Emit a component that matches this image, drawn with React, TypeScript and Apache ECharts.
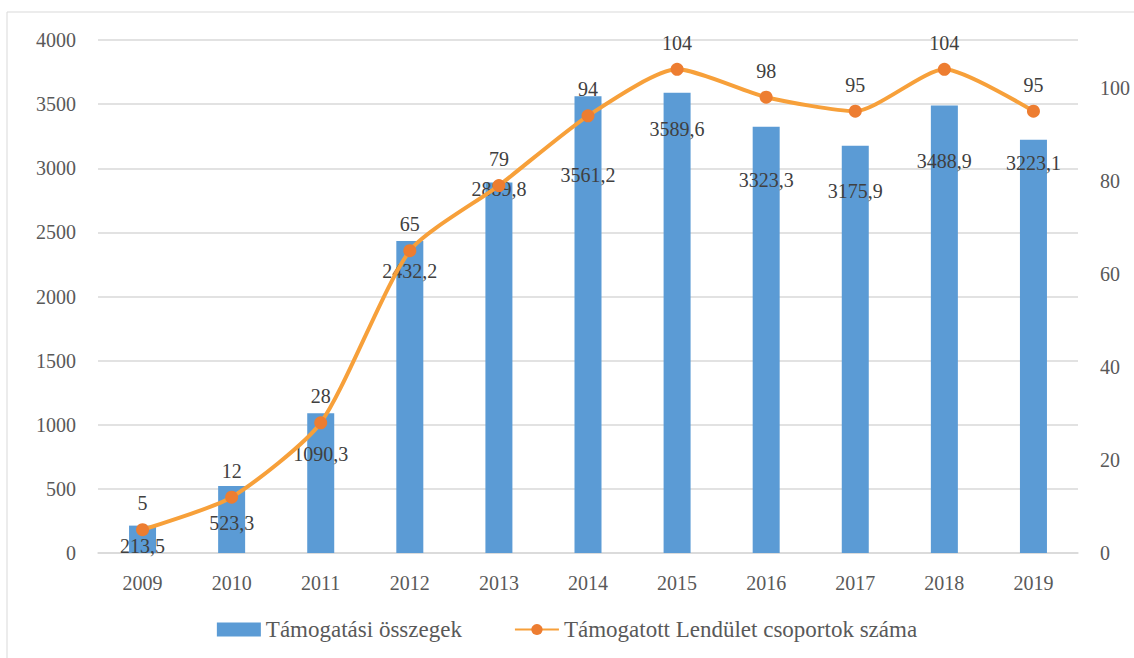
import React, { useEffect, useRef } from "react";
import * as echarts from "echarts";

const years = ["2009", "2010", "2011", "2012", "2013", "2014", "2015", "2016", "2017", "2018", "2019"];
const supportAmounts = [213.5, 523.3, 1090.3, 2432.2, 2889.8, 3561.2, 3589.6, 3323.3, 3175.9, 3488.9, 3223.1];
const groupCounts = [5, 12, 28, 65, 79, 94, 104, 98, 95, 104, 95];
const barName = "Támogatási összegek";
const lineName = "Támogatott Lendület csoportok száma";

// label vertical offsets (px below bar top) — styling only
const barLabelDy = [20, 37, 41, 30, 7, 79, 36, 53, 45, 55, 23];

const FONT = "'Liberation Serif', 'Times New Roman', 'DejaVu Serif', serif";
const TEXT = "#595959";
const LABEL = "#404040";

export default function App() {
  const ref = useRef<HTMLDivElement>(null);
  useEffect(() => {
    document.body.style.margin = "0";
    const chart = echarts.init(ref.current!, null, { renderer: "svg" });
    chart.setOption({
      animation: false,
      backgroundColor: "#ffffff",
      textStyle: { fontFamily: FONT },
      graphic: [
        {
          type: "rect",
          shape: { x: 7, y: 12, width: 1140, height: 660 },
          style: { fill: "none", stroke: "#d9d9d9", lineWidth: 1 },
          silent: true,
        },
      ],
      grid: { left: 98, right: 56, top: 40, bottom: 105, containLabel: false },
      legend: {
        bottom: 12,
        left: "center",
        itemGap: 52,
        itemWidth: 44,
        itemHeight: 14,
        textStyle: { fontFamily: FONT, fontSize: 23, color: TEXT },
        data: [
          { name: barName, icon: "rect" },
          { name: lineName },
        ],
      },
      xAxis: {
        type: "category",
        data: years,
        axisLine: { lineStyle: { color: "#d9d9d9", width: 1.5 } },
        axisTick: { show: false },
        axisLabel: { fontFamily: FONT, fontSize: 20, color: TEXT, margin: 20 },
      },
      yAxis: [
        {
          type: "value",
          min: 0,
          max: 4000,
          interval: 500,
          axisLine: { show: false },
          axisTick: { show: false },
          splitLine: { lineStyle: { color: "#d9d9d9", width: 1.5 } },
          axisLabel: {
            fontFamily: FONT,
            fontSize: 20,
            color: TEXT,
            margin: 22,
            formatter: (v: number) => String(v),
          },
        },
        {
          type: "value",
          min: 0,
          max: 110.3,
          interval: 20,
          axisLine: { show: false },
          axisTick: { show: false },
          splitLine: { show: false },
          axisLabel: {
            fontFamily: FONT,
            fontSize: 20,
            color: TEXT,
            margin: 22,
            formatter: (v: number) => (v % 20 === 0 ? String(v) : ""),
          },
        },
      ],
      series: [
        {
          name: barName,
          type: "bar",
          data: supportAmounts.map((v, i) => ({
            value: v,
            label: { position: ["50%", barLabelDy[i]] },
          })),
          barWidth: 27,
          itemStyle: { color: "#5B9BD5" },
          z: 2,
          label: {
            show: true,
            align: "center",
            verticalAlign: "middle",
            fontFamily: FONT,
            fontSize: 20,
            color: LABEL,
            formatter: (p: any) => Number(p.value).toFixed(1).replace(".", ","),
          },
        },
        {
          name: lineName,
          type: "line",
          yAxisIndex: 1,
          data: groupCounts,
          smooth: 0.22,
          symbol: "circle",
          symbolSize: 13,
          lineStyle: { color: "#F7A03A", width: 4 },
          itemStyle: { color: "#ED7D31" },
          z: 3,
          label: {
            show: true,
            position: "top",
            distance: 10,
            fontFamily: FONT,
            fontSize: 20,
            color: LABEL,
          },
        },
      ],
    });
    return () => chart.dispose();
  }, []);
  return <div ref={ref} style={{ width: 1134, height: 658 }} />;
}
